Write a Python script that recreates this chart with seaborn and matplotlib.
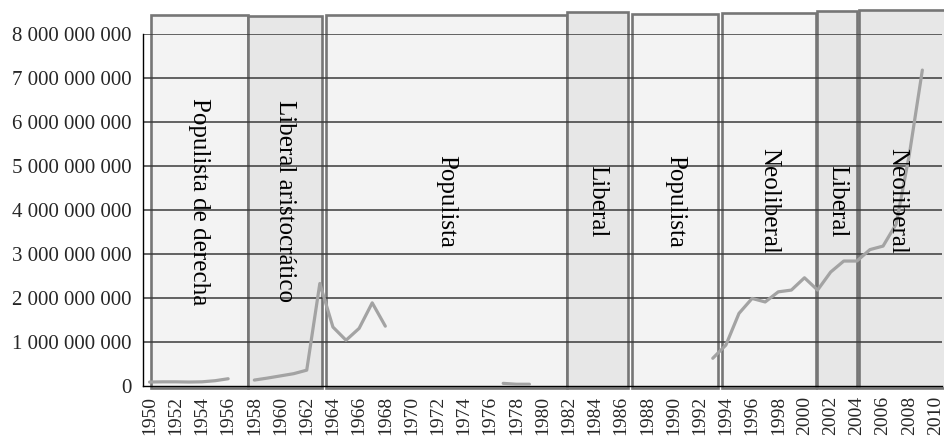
import numpy as np
import pandas as pd
import matplotlib
matplotlib.use("Agg")
import matplotlib.pyplot as plt
import seaborn as sns

# ---------------- data ----------------
years = list(range(1950, 2011))
values = {
    1950: 0.09e9, 1951: 0.095e9, 1952: 0.095e9, 1953: 0.09e9, 1954: 0.095e9,
    1955: 0.12e9, 1956: 0.165e9,
    1958: 0.135e9, 1959: 0.18e9, 1960: 0.23e9, 1961: 0.28e9, 1962: 0.36e9,
    1963: 2.33e9, 1964: 1.34e9, 1965: 1.04e9, 1966: 1.31e9, 1967: 1.89e9,
    1968: 1.36e9,
    1977: 0.06e9, 1978: 0.04e9, 1979: 0.04e9,
    1993: 0.63e9, 1994: 0.93e9, 1995: 1.65e9, 1996: 1.99e9, 1997: 1.91e9,
    1998: 2.14e9, 1999: 2.18e9, 2000: 2.46e9, 2001: 2.18e9, 2002: 2.59e9,
    2003: 2.84e9, 2004: 2.84e9, 2005: 3.10e9, 2006: 3.18e9, 2007: 3.68e9,
    2008: 5.25e9, 2009: 7.18e9,
}
regime_labels = ["Populista de derecha", "Liberal aristocrático", "Populista",
                 "Liberal", "Populista", "Neoliberal", "Liberal", "Neoliberal"]
regime_start = [1950.1, 1957.5, 1963.47, 1981.9, 1986.8, 1993.7, 2000.95, 2004.2]
regime_end = [1957.5, 1963.2, 1981.9, 1986.5, 1993.4, 2000.9, 2004.0, 2013.0]
regime_top = [8.44e9, 8.40e9, 8.44e9, 8.49e9, 8.45e9, 8.47e9, 8.53e9, 8.54e9]
regime_shade = ["light", "dark", "light", "dark", "light", "light", "dark", "dark"]
y_ticks = [0, 1e9, 2e9, 3e9, 4e9, 5e9, 6e9, 7e9, 8e9]

# ---------------- build frame ----------------
rows = []
seg = 0
prev = None
for i, y in enumerate(years):
    if y in values:
        if prev is None or prev != y - 1:
            seg += 1
        rows.append({"pos": i, "value": values[y], "segment": seg})
        prev = y
df = pd.DataFrame(rows)

sns.set_style("white")
plt.rcParams["font.family"] = ["Liberation Serif", "DejaVu Serif"]

fig = plt.figure(figsize=(9.45, 4.38), dpi=100)
ax = fig.add_axes([143 / 945, 1 - 386 / 438, (942 - 143) / 945, (386 - 34) / 438])

fills = {"light": "#f3f3f3", "dark": "#e7e7e7"}
for lab, s, e, top, sh in zip(regime_labels, regime_start, regime_end, regime_top, regime_shade):
    x0 = s - 1950
    x1 = e - 1950
    ax.bar(x0, top + 0.04e9, width=x1 - x0, bottom=-0.04e9, align="edge",
           color=fills[sh], edgecolor="#767676", linewidth=1.9, zorder=1,
           clip_on=False)
    ax.text((x0 + min(x1, 60.5)) / 2 if e < 2012 else (x0 + 60.5) / 2 - 0.3,
            4.2e9, lab, rotation=-90, ha="center", va="center",
            fontsize=18, color="black", zorder=5)

for t in y_ticks[1:]:
    ax.axhline(t, color="#3a3a3a", lw=1.1, zorder=2)

sns.lineplot(data=df, x="pos", y="value", units="segment", estimator=None,
             color="#a3a3a3", lw=2.3, ax=ax, zorder=4, legend=False)

ax.set_xlim(-0.5, 60.5)
ax.set_ylim(0, 8e9)
ax.set_yticks(y_ticks)
ax.set_yticklabels([f"{int(v):,}".replace(",", " ") for v in y_ticks], fontsize=15)
ax.set_xticks(list(range(0, 61, 2)))
ax.set_xticklabels([str(y) for y in years[::2]], rotation=90, fontsize=14)
ax.set_xticks([i - 0.5 for i in range(62)], minor=True)
ax.tick_params(axis="x", which="major", length=0, pad=7)
ax.tick_params(axis="x", which="minor", length=5, width=1, color="black", direction="out")
ax.tick_params(axis="y", length=6, width=1, color="black", direction="out", pad=2)
ax.set_xlabel("")
ax.set_ylabel("")
for sp in ["top", "right"]:
    ax.spines[sp].set_visible(False)
for sp in ["left", "bottom"]:
    ax.spines[sp].set_color("black")
    ax.spines[sp].set_linewidth(1.0)
    ax.spines[sp].set_zorder(3)
ax.patch.set_alpha(0)

fig.savefig("out.png", dpi=100)
